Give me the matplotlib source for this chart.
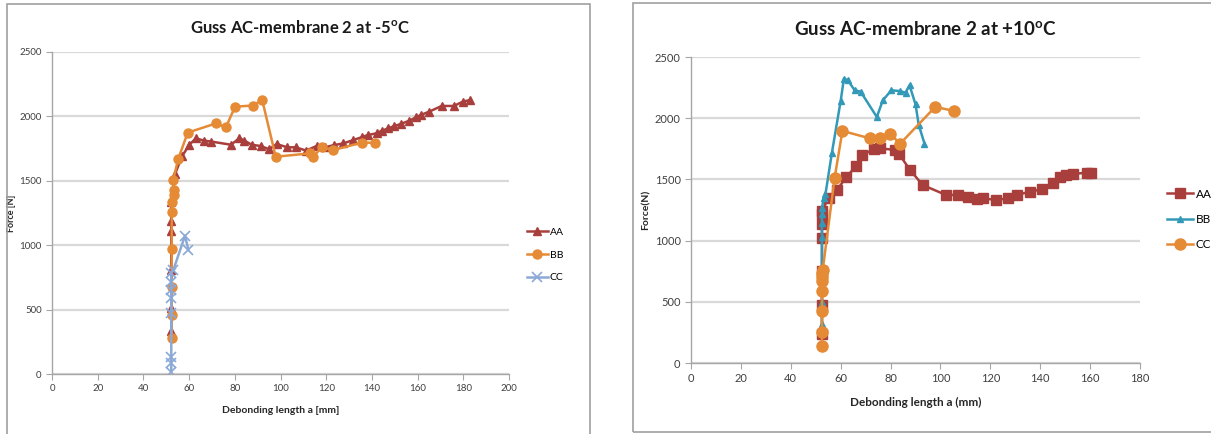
import matplotlib
matplotlib.use("Agg")
import matplotlib.pyplot as plt
from matplotlib.patches import Rectangle

plt.rcParams['font.family'] = ['Lato', 'DejaVu Sans']
plt.rcParams['mathtext.fontset'] = 'custom'
plt.rcParams['mathtext.rm'] = 'Lato'
plt.rcParams['mathtext.bf'] = 'Lato:bold'

# -5 C test
cold_aa_x = [52.2, 52.2, 52.2, 52.2, 52.2, 52.2, 53.8, 56.9, 60.1, 63.0, 66.5, 69.6, 78.3, 82.0,
             84.2, 87.4, 91.3, 95.1, 98.3, 103.0, 106.6, 111.2, 115.8, 119.5, 123.6, 127.5, 131.9,
             135.5, 138.4, 142.1, 144.3, 147.2, 149.8, 152.6, 156.4, 159.3, 161.4, 165.1, 170.5,
             175.9, 179.7, 182.9]
cold_aa_y = [330, 510, 810, 1110, 1190, 1335, 1550, 1690, 1780, 1830, 1812, 1805, 1780, 1830,
             1812, 1780, 1770, 1745, 1785, 1760, 1760, 1735, 1770, 1760, 1778, 1790, 1817,
             1838, 1856, 1869, 1889, 1907, 1925, 1941, 1967, 1993, 2011, 2037, 2081,
             2081, 2114, 2127]
cold_bb_x = [52.4, 52.4, 52.4, 52.4, 52.4, 52.6, 53.3, 53.3, 53.0, 55.3, 59.4, 71.8, 76.1, 80.1,
             87.8, 92.0, 97.9, 112.9, 114.4, 118.0, 123.1, 135.5, 141.4]
cold_bb_y = [277, 458, 678, 968, 1260, 1338, 1390, 1429, 1506, 1673, 1874, 1946, 1915, 2076,
             2084, 2127, 1687, 1713, 1687, 1760, 1739, 1796, 1796]
cold_cc_x = [52.2, 52.2, 52.2, 52.2, 52.2, 52.2, 52.2, 52.2, 53.1, 58.2, 59.7]
cold_cc_y = [18, 83, 134, 471, 588, 652, 717, 782, 807, 1074, 963]

# +10 C test
warm_aa_x = [52.5, 52.5, 52.5, 52.5, 52.5, 52.5, 52.5, 55.3, 58.5, 62.3, 66.3, 68.7, 73.3, 75.6,
             81.8, 83.5, 87.8, 92.9, 102.2, 106.9, 111.2, 114.8, 117.2, 122.3, 127.2, 130.8,
             135.9, 140.6, 145.3, 148.0, 150.4, 153.0, 158.7, 160.3]
warm_aa_y = [237, 476, 754, 1020, 1134, 1216, 1243, 1352, 1412, 1521, 1610, 1700, 1746, 1755,
             1740, 1705, 1577, 1454, 1373, 1373, 1359, 1337, 1345, 1332, 1345, 1373,
             1400, 1419, 1468, 1517, 1536, 1544, 1555, 1552]
warm_bb_x = [52.5, 52.5, 52.5, 52.5, 52.5, 52.5, 52.5, 53.3, 53.9, 56.5, 60.0, 61.3, 62.9, 65.6,
             68.0, 74.5, 76.9, 80.3, 83.6, 86.0, 87.6, 90.0, 91.3, 93.6]
warm_bb_y = [318, 495, 780, 1026, 1140, 1216, 1270, 1352, 1379, 1719, 2141, 2323, 2310, 2228,
             2217, 2010, 2146, 2228, 2222, 2209, 2269, 2114, 1945, 1793]
warm_cc_x = [52.5, 52.5, 52.5, 52.5, 52.5, 52.5, 52.5, 52.8, 57.6, 60.7, 71.6, 75.6, 79.6, 83.9,
             97.9, 105.6]
warm_cc_y = [136, 250, 422, 590, 672, 700, 732, 759, 1515, 1896, 1836, 1836, 1874, 1793,
             2092, 2059]

red = '#A93F3C'
orange = '#E58A35'
lblue = '#8BA9D6'
teal = '#3399B8'
grid = '#D9D9D9'
spine = '#A6A6A6'

W, H = 1211, 434
fig = plt.figure(figsize=(W / 100, H / 100), dpi=100)

# panel frames
fig.patches.append(Rectangle((7 / W, -0.05), (590 - 7) / W, 1.04, transform=fig.transFigure,
                             fill=False, edgecolor='#A0A0A0', linewidth=1.2))
fig.patches.append(Rectangle((633 / W, 2 / H), 0.6, 429 / H, transform=fig.transFigure,
                             fill=False, edgecolor='#A0A0A0', linewidth=1.2))


def style(ax, xmax, ylabel, xlabel, fs, ypad):
    ax.set_xlim(0, xmax)
    ax.set_ylim(0, 2500)
    ax.set_xticks(range(0, xmax + 1, 20))
    ax.set_yticks(range(0, 2501, 500))
    ax.yaxis.grid(True, color=grid, linewidth=1.6)
    ax.set_axisbelow(True)
    for s in ['top', 'right']:
        ax.spines[s].set_visible(False)
    for s in ['left', 'bottom']:
        ax.spines[s].set_color(spine)
        ax.spines[s].set_linewidth(1.0)
    ax.tick_params(colors=spine, labelcolor='#404040', labelsize=fs, length=4, width=0.8)
    ax.set_xlabel(xlabel, fontsize=fs + 0.5, fontweight='bold', color='#262626', labelpad=9)
    ax.set_ylabel(ylabel, fontsize=fs - 0.5, fontweight='bold', color='#262626', labelpad=ypad)


# left chart
ax1 = fig.add_axes([52 / W, 60 / H, (509 - 52) / W, (374 - 52) / H])
ax1.plot(cold_aa_x, cold_aa_y, color=red, marker='^', markersize=6, linewidth=1.8, label='AA')
ax1.plot(cold_bb_x, cold_bb_y, color=orange, marker='o', markersize=6.5, linewidth=1.8, label='BB')
ax1.plot(cold_cc_x, cold_cc_y, color=lblue, marker='x', markersize=7, markeredgewidth=1.2,
         linewidth=1.8, label='CC')
style(ax1, 200, 'Force [N]', 'Debonding length a [mm]', 7, 2)
fig.text(300 / W, 1 - 28 / H, r'Guss AC-membrane 2 at -5$^\mathbf{o}$C', fontsize=12,
         fontweight='bold', color='#1a1a1a', ha='center', va='center')
ax1.legend(loc='center left', bbox_to_anchor=(1.03, 0.37), frameon=False, fontsize=7.5,
           handlelength=2.0, handletextpad=0.2, labelspacing=1.3, borderaxespad=0)

# right chart
ax2 = fig.add_axes([691 / W, 71 / H, (1140 - 691) / W, (363 - 57) / H])
ax2.plot(warm_aa_x, warm_aa_y, color=red, marker='s', markersize=7.5, linewidth=1.8, label='AA')
ax2.plot(warm_bb_x, warm_bb_y, color=teal, marker='^', markersize=4.5, linewidth=1.8, label='BB')
ax2.plot(warm_cc_x, warm_cc_y, color=orange, marker='o', markersize=8, linewidth=1.8, label='CC')
style(ax2, 180, 'Force(N)', 'Debonding length a (mm)', 8, 3)
fig.text(925 / W, 1 - 30 / H, r'Guss AC-membrane 2 at +10$^\mathbf{o}$C', fontsize=13.5,
         fontweight='bold', color='#1a1a1a', ha='center', va='center')
ax2.legend(loc='center left', bbox_to_anchor=(1.05, 0.47), frameon=False, fontsize=8.5,
           handlelength=2.2, handletextpad=0.2, labelspacing=1.2, borderaxespad=0)

fig.savefig('out.png', dpi=100)
